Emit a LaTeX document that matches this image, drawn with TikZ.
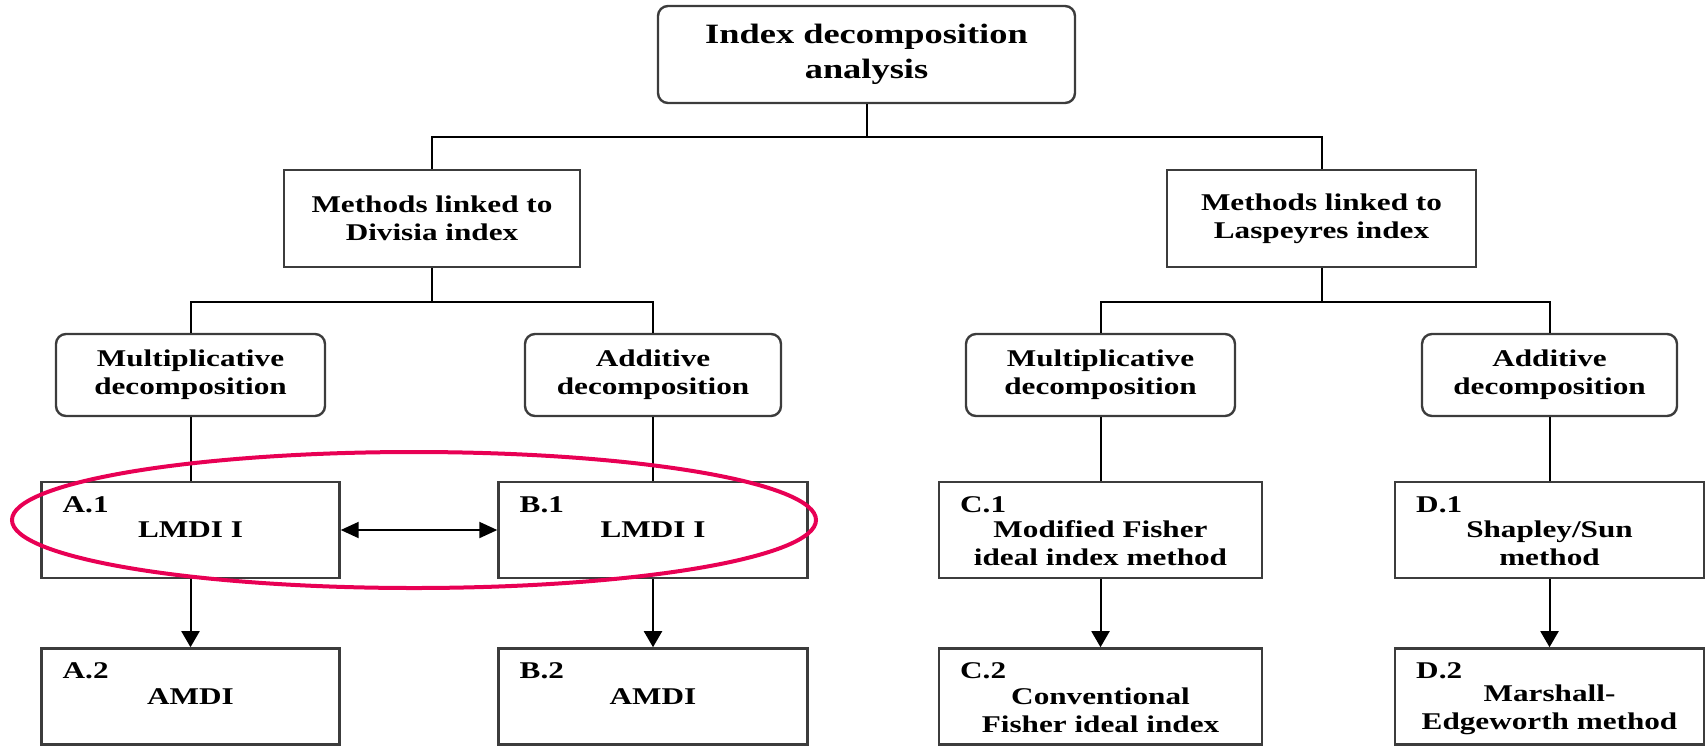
\documentclass[tikz,border=0pt]{standalone}
\usepackage{fontspec}
\setmainfont{Liberation Serif}[FakeStretch=1.3]
\usepackage{tikz}
\usetikzlibrary{positioning,shapes,arrows.meta,calc}
\definecolor{RingRed}{RGB}{232,0,84}
\definecolor{EdgeGray}{RGB}{60,60,60}

\begin{document}
\begin{tikzpicture}[
    x=0.5pt, y=-0.5pt,
    font=\bfseries\fontsize{12}{14}\selectfont,
    box/.style={rectangle, draw=EdgeGray, line width=1.2pt, align=center, inner sep=2pt},
    rbox/.style={box, rounded corners=5pt},
    method/.style={box, minimum width=154.5pt, minimum height=48pt},
    tag/.style={anchor=north west, inner sep=0pt, xshift=11pt, yshift=-7.5pt},
    line/.style={draw, line width=1pt},
    arrow/.style={line, -{Triangle[width=9pt,length=8pt]}},
    ring/.style={draw=RingRed, line width=2pt}
]
\useasboundingbox (0,0) rectangle (1706,745);

% Place nodes
\node [rbox, minimum width=208.5pt, minimum height=48.5pt, font=\bfseries\fontsize{14}{17.5}\selectfont] (root) at (866.5,54.5) {Index decomposition\\analysis};
\node [box, minimum width=148pt, minimum height=48.5pt] (divisia) at (432,218.5) {Methods linked to\\Divisia index};
\node [box, minimum width=154.5pt, minimum height=48.5pt] (laspeyres) at (1321.5,218.5) {Methods linked to\\Laspeyres index};

\node [rbox, minimum width=134.5pt, minimum height=41pt] (multL) at (190.5,375) {Multiplicative\\decomposition};
\node [rbox, minimum width=128pt, minimum height=41pt] (addL) at (653,375) {Additive\\decomposition};
\node [rbox, minimum width=134.5pt, minimum height=41pt] (multR) at (1100.5,375) {Multiplicative\\decomposition};
\node [rbox, minimum width=127.5pt, minimum height=41pt] (addR) at (1549.5,375) {Additive\\decomposition};

% the two-line texts start on the same line as "LMDI I"
\node [method, minimum width=149pt, label={[tag]north west:A.1}] (a1) at (190.5,530) {LMDI I};
\node [method, label={[tag]north west:B.1}] (b1) at (653,530) {LMDI I};
\node [method, minimum width=161.5pt, label={[tag]north west:C.1}] (c1) at (1100.5,530) {\rule{0pt}{8pt}\\Modified Fisher\\ideal index method};
\node [method, label={[tag]north west:D.1}] (d1) at (1549.5,530) {\rule{0pt}{8pt}\\Shapley/Sun\\method};

\node [method, minimum width=149pt, below=34pt of a1, label={[tag]north west:A.2}] (a2) {AMDI};
\node [method, below=34pt of b1, label={[tag]north west:B.2}] (b2) {AMDI};
\node [method, minimum width=161.5pt, below=34pt of c1, label={[tag]north west:C.2}] (c2) {\rule{0pt}{8pt}\\Conventional\\Fisher ideal index};
\node [method, below=34pt of d1, label={[tag]north west:D.2}] (d2) {\rule{0pt}{8pt}\\Marshall-\\Edgeworth method};

\coordinate (busTop) at (866.5,137);
\coordinate (busL) at (432,302);
\coordinate (busR) at (1321.5,302);

% Draw edges
\draw [line] (root) -- (busTop);
\draw [line] (divisia) |- (busTop) -| (laspeyres);
\draw [line] (divisia) -- (busL);
\draw [line] (multL) |- (busL) -| (addL);
\draw [line] (laspeyres) -- (busR);
\draw [line] (multR) |- (busR) -| (addR);

\draw [line] (multL) -- (a1);
\draw [line] (addL) -- (b1);
\draw [line] (multR) -- (c1);
\draw [line] (addR) -- (d1);

\draw [arrow] (a1) -- (a2);
\draw [arrow] (b1) -- (b2);
\draw [arrow] (c1) -- (c2);
\draw [arrow] (d1) -- (d2);
\draw [line, {Triangle[width=8pt,length=9pt]}-{Triangle[width=8pt,length=9pt]}] (a1) -- (b1);

% highlight
\draw [ring] (414,520) ellipse [x radius=201pt, y radius=34pt];
\end{tikzpicture}
\end{document}
